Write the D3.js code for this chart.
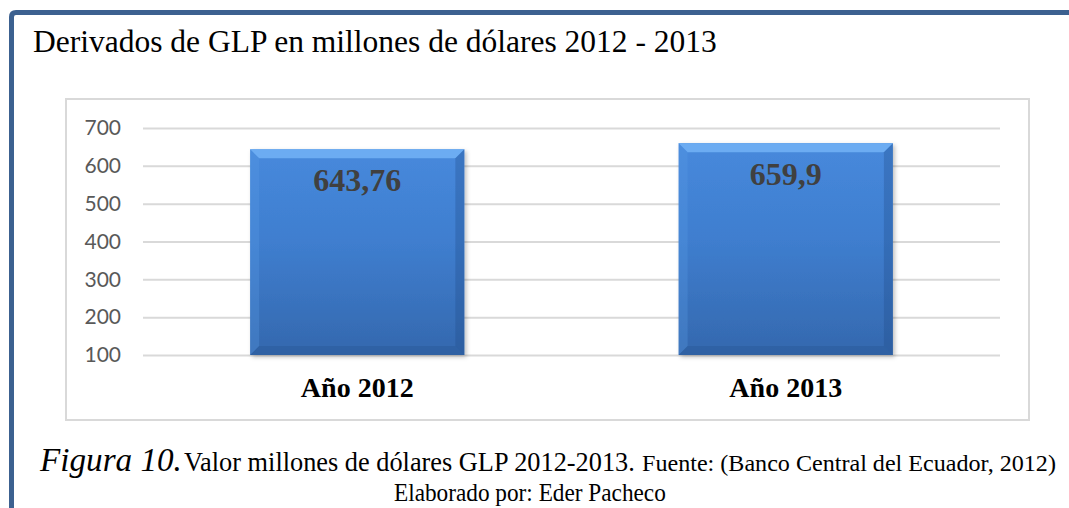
<!DOCTYPE html>
<html><head><meta charset="utf-8">
<script src="https://cdn.jsdelivr.net/npm/d3@7"></script>
<style>html,body{margin:0;padding:0;background:#fff;}svg{display:block;}</style>
</head><body>
<svg id="c" width="1069" height="508"></svg>
<script>
const categories = ["Año 2012", "Año 2013"];
const values = [643.76, 659.9];
const valueLabels = ["643,76", "659,9"];
const tickValues = [100, 200, 300, 400, 500, 600, 700];
const title = "Derivados de GLP en millones de dólares 2012 - 2013";
const captionParts = ["Figura 10.", "Valor millones de dólares GLP 2012-2013.", "Fuente: (Banco Central del Ecuador, 2012)"];
const caption2 = "Elaborado por: Eder Pacheco";

const svg = d3.select("#c");
const W = 1069, H = 508;
const serif = "'Liberation Serif', 'Times New Roman', serif";
svg.append("rect").attr("width", W).attr("height", H).attr("fill", "#fff");

const defs = svg.append("defs");
const g1 = defs.append("linearGradient").attr("id", "barGrad").attr("x1", 0).attr("y1", 0).attr("x2", 0).attr("y2", 1);
g1.append("stop").attr("offset", "0%").attr("stop-color", "#4789dc");
g1.append("stop").attr("offset", "45%").attr("stop-color", "#3f7ecf");
g1.append("stop").attr("offset", "100%").attr("stop-color", "#3468ae");
const f = defs.append("filter").attr("id", "shadow").attr("x", "-10%").attr("y", "-10%").attr("width", "130%").attr("height", "130%");
f.append("feDropShadow").attr("dx", 2).attr("dy", 2).attr("stdDeviation", 2).attr("flood-color", "#000").attr("flood-opacity", 0.25);

// outer frame
svg.append("path")
  .attr("d", "M11.5,508 L11.5,17 Q11.5,12.5 16,12.5 L1069,12.5")
  .attr("fill", "none").attr("stroke", "#3c6190").attr("stroke-width", 5);

// title
svg.append("text").attr("x", 33).attr("y", 52)
  .attr("font-family", serif)
  .attr("font-size", 31.5).attr("fill", "#000").text(title);

// plot box
svg.append("rect").attr("x", 66).attr("y", 99).attr("width", 963).attr("height", 321)
  .attr("fill", "#fff").attr("stroke", "#d9d9d9").attr("stroke-width", 2);

const x = d3.scaleBand().domain(categories).range([143, 1000]).paddingInner(0.5).paddingOuter(0.25);
const y = d3.scaleLinear().domain([100, 700]).range([355, 128]);

// gridlines
const grid = svg.append("g").attr("transform", "translate(143,0)")
  .call(d3.axisLeft(y).tickValues(tickValues).tickSize(-857).tickFormat(""));
grid.select(".domain").remove();
grid.selectAll("line").attr("stroke", "#d9d9d9").attr("stroke-width", 2);

// y tick labels
const yax = svg.append("g").attr("transform", "translate(121,0)")
  .call(d3.axisLeft(y).tickValues(tickValues).tickSize(0).tickPadding(0));
yax.select(".domain").remove();
yax.selectAll("text").attr("font-family", "Lato, 'Open Sans', sans-serif").attr("font-size", 21)
  .attr("fill", "#595959");

// bars
const bev = 9;
const bars = svg.append("g").selectAll("g").data(values).enter().append("g");
bars.each(function(v, i) {
  const gg = d3.select(this);
  const x0 = x(categories[i]), bw = x.bandwidth(), y0 = y(v), y1 = y(100);
  gg.append("rect").attr("x", x0).attr("y", y0).attr("width", bw).attr("height", y1 - y0)
    .attr("fill", "url(#barGrad)").attr("filter", "url(#shadow)");
  gg.append("path").attr("d", `M${x0},${y0} L${x0 + bw},${y0} L${x0 + bw - bev},${y0 + bev} L${x0 + bev},${y0 + bev} Z`)
    .attr("fill", "#70b0f4").attr("opacity", 0.9);
  gg.append("path").attr("d", `M${x0},${y0} L${x0 + bev},${y0 + bev} L${x0 + bev},${y1 - bev} L${x0},${y1} Z`)
    .attr("fill", "#5a9be6").attr("opacity", 0.3);
  gg.append("path").attr("d", `M${x0 + bw},${y0} L${x0 + bw},${y1} L${x0 + bw - bev},${y1 - bev} L${x0 + bw - bev},${y0 + bev} Z`)
    .attr("fill", "#1f4a85").attr("opacity", 0.3);
  gg.append("path").attr("d", `M${x0},${y1} L${x0 + bw},${y1} L${x0 + bw - bev},${y1 - bev} L${x0 + bev},${y1 - bev} Z`)
    .attr("fill", "#1f4a85").attr("opacity", 0.25);
  gg.append("text").attr("x", x0 + bw / 2).attr("y", y0 + 42)
    .attr("text-anchor", "middle").attr("font-family", serif)
    .attr("font-weight", "bold").attr("font-size", 32).attr("fill", "#404040").text(valueLabels[i]);
});

// category labels
svg.append("g").selectAll("text").data(categories).enter().append("text")
  .attr("x", d => x(d) + x.bandwidth() / 2).attr("y", 397)
  .attr("text-anchor", "middle").attr("font-family", serif)
  .attr("font-weight", "bold").attr("font-size", 28).attr("fill", "#000").text(d => d);

// caption: text scaled horizontally to target width
const capSpec = [
  {t: captionParts[0], x: 40, y: 471, fs: 34, len: 142, it: true},
  {t: captionParts[1], x: 184, y: 471, fs: 27, len: 451, it: false},
  {t: captionParts[2], x: 642, y: 471, fs: 24, len: 414, it: false},
  {t: caption2, x: 394, y: 501, fs: 26, len: 272, it: false}
];
capSpec.forEach(d => {
  const t = svg.append("text").attr("x", 0).attr("y", 0)
    .attr("font-family", serif).attr("font-size", d.fs)
    .attr("font-style", d.it ? "italic" : "normal")
    .attr("fill", "#000").text(d.t);
  const w = t.node().getComputedTextLength() || d.len;
  t.attr("transform", `translate(${d.x},${d.y}) scale(${d.len / w},1)`);
});
</script>
</body></html>
